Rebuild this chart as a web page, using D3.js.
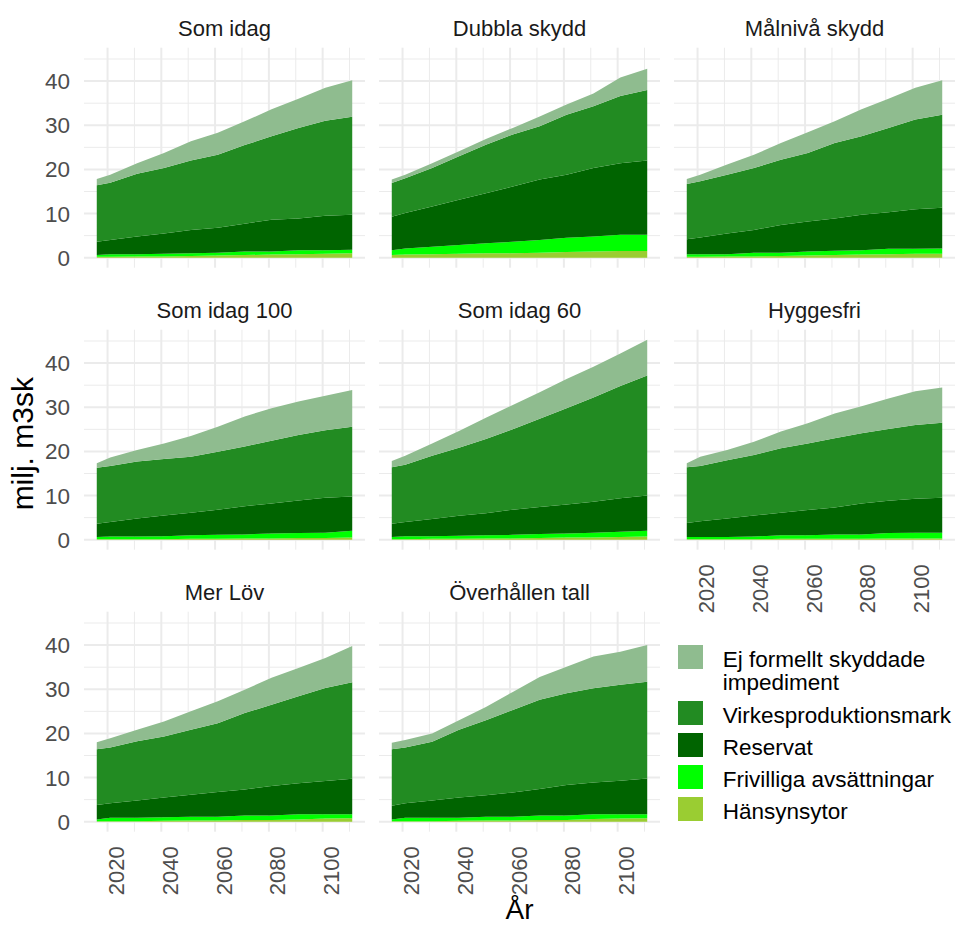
<!DOCTYPE html>
<html>
<head>
<meta charset="utf-8">
<script src="https://cdn.jsdelivr.net/npm/d3@7"></script>
<style>
  body { margin: 0; background: #fff; }
  text { font-family: "Liberation Sans", Arial, sans-serif; }
</style>
</head>
<body>
<div id="chart"></div>
<script>
// Years (5-year period starts, every 10 years after 2021)
const years = [2016, 2021, 2031, 2041, 2051, 2061, 2071, 2081, 2091, 2101, 2111];

// Scenarios (facet order)
const scenarios = ["Som idag", "Dubbla skydd", "Målnivå skydd", "Som idag 100",
    "Som idag 60", "Hyggesfri", "Mer Löv", "Överhållen tall"];

// Categories, stacking order bottom -> top
const categories = ["Hänsynsytor", "Frivilliga avsättningar", "Reservat",
    "Virkesproduktionsmark", "Ej formellt skyddade impediment"];

// Values in milj. m3sk, one row per scenario
const hansynsytor = [
    [0.2, 0.2, 0.3, 0.3, 0.4, 0.5, 0.6, 0.7, 0.8, 0.9, 1.0],
    [0.6, 0.7, 0.8, 0.9, 1.0, 1.0, 1.1, 1.3, 1.4, 1.5, 1.5],
    [0.2, 0.2, 0.3, 0.3, 0.4, 0.5, 0.6, 0.7, 0.8, 0.9, 0.9],
    [0.1, 0.1, 0.1, 0.1, 0.2, 0.2, 0.3, 0.3, 0.4, 0.4, 0.5],
    [0.1, 0.1, 0.2, 0.2, 0.3, 0.3, 0.4, 0.5, 0.5, 0.6, 0.7],
    [0.1, 0.1, 0.1, 0.1, 0.2, 0.2, 0.2, 0.2, 0.3, 0.3, 0.3],
    [0.1, 0.1, 0.1, 0.2, 0.3, 0.3, 0.4, 0.4, 0.5, 0.7, 0.8],
    [0.1, 0.1, 0.1, 0.2, 0.3, 0.3, 0.4, 0.4, 0.6, 0.7, 0.8]
];
const frivilliga = [
    [0.4, 0.6, 0.5, 0.6, 0.6, 0.6, 0.8, 0.7, 0.9, 0.8, 0.8],
    [1.1, 1.4, 1.7, 2.0, 2.3, 2.6, 2.9, 3.2, 3.4, 3.7, 3.7],
    [0.6, 0.6, 0.5, 0.8, 0.7, 0.9, 1.0, 1.0, 1.2, 1.1, 1.2],
    [0.5, 0.6, 0.6, 0.7, 0.8, 0.9, 0.9, 1.1, 1.1, 1.2, 1.5],
    [0.5, 0.7, 0.6, 0.7, 0.7, 0.8, 0.9, 0.9, 1.1, 1.2, 1.3],
    [0.5, 0.5, 0.5, 0.6, 0.8, 0.8, 1.0, 1.0, 1.2, 1.3, 1.3],
    [0.4, 0.8, 0.8, 0.8, 0.8, 0.8, 1.0, 1.0, 1.2, 1.0, 0.9],
    [0.4, 0.8, 0.8, 0.7, 0.8, 0.8, 1.0, 1.0, 1.1, 1.0, 0.9]
];
const reservat = [
    [3.0, 3.2, 4.0, 4.6, 5.3, 5.7, 6.3, 7.2, 7.2, 7.8, 7.9],
    [7.6, 8.0, 9.1, 10.2, 11.3, 12.5, 13.7, 14.3, 15.5, 16.2, 16.8],
    [3.4, 3.8, 4.7, 5.2, 6.3, 6.8, 7.3, 8.0, 8.3, 9.0, 9.2],
    [3.0, 3.3, 4.1, 4.7, 5.1, 5.7, 6.4, 6.8, 7.4, 7.9, 7.8],
    [3.0, 3.2, 3.9, 4.5, 5.0, 5.7, 6.1, 6.6, 7.0, 7.6, 8.0],
    [3.2, 3.6, 4.2, 4.8, 5.1, 5.7, 6.1, 7.0, 7.3, 7.7, 7.9],
    [3.3, 3.3, 3.9, 4.5, 5.0, 5.6, 5.9, 6.7, 7.0, 7.5, 8.0],
    [3.1, 3.3, 3.9, 4.6, 4.9, 5.5, 6.0, 6.9, 7.2, 7.6, 8.1]
];
const virkesproduktion = [
    [12.8, 13.0, 14.2, 14.8, 15.7, 16.5, 17.8, 18.9, 20.5, 21.5, 22.2],
    [7.6, 7.9, 8.7, 9.9, 11.0, 11.8, 12.1, 13.6, 14.0, 15.2, 16.0],
    [12.5, 12.7, 13.3, 14.0, 14.8, 15.5, 17.1, 17.8, 19.1, 20.3, 21.1],
    [12.7, 12.7, 12.9, 12.8, 12.7, 13.1, 13.5, 14.2, 14.8, 15.3, 15.8],
    [12.8, 13.0, 14.3, 15.4, 16.8, 18.2, 20.0, 21.8, 23.6, 25.4, 27.2],
    [12.6, 12.5, 13.2, 13.7, 14.6, 15.1, 15.7, 15.9, 16.3, 16.7, 17.0],
    [12.6, 12.6, 13.4, 13.8, 14.7, 15.6, 17.3, 18.4, 19.7, 21.1, 21.9],
    [12.8, 12.6, 13.3, 15.3, 17.0, 18.7, 20.2, 20.8, 21.3, 21.7, 21.9]
];
const impediment = [
    [1.4, 1.8, 2.4, 3.4, 4.4, 5.0, 5.4, 6.1, 6.6, 7.5, 8.3],
    [0.8, 0.8, 1.1, 1.1, 1.3, 1.5, 2.2, 2.3, 2.9, 4.2, 4.8],
    [1.1, 1.5, 2.3, 3.0, 3.8, 4.7, 4.9, 6.1, 6.6, 7.2, 7.8],
    [1.0, 1.9, 2.6, 3.5, 4.7, 5.7, 6.8, 7.4, 7.6, 7.8, 8.3],
    [1.4, 2.0, 2.8, 3.8, 4.8, 5.5, 6.0, 6.6, 7.0, 7.4, 8.1],
    [0.9, 2.1, 2.3, 3.0, 3.8, 4.6, 5.6, 6.1, 6.9, 7.6, 8.0],
    [1.6, 2.1, 2.6, 3.4, 4.2, 5.0, 5.3, 6.1, 6.4, 6.8, 8.2],
    [1.5, 1.7, 1.9, 2.2, 3.0, 4.1, 5.2, 6.0, 7.2, 7.5, 8.3]
];

// Axis ticks
const xMajor = [2020, 2040, 2060, 2080, 2100];
const xMinor = [2030, 2050, 2070, 2090, 2110];
const yMajor = [0, 10, 20, 30, 40];
const yMinor = [5, 15, 25, 35, 45];

const colors = {
    "Hänsynsytor": "#9ACD32",
    "Frivilliga avsättningar": "#00FF00",
    "Reservat": "#006400",
    "Virkesproduktionsmark": "#228B22",
    "Ej formellt skyddade impediment": "#8FBC8F"
};

// Build one table per scenario
const series = [hansynsytor, frivilliga, reservat, virkesproduktion, impediment];
const tables = scenarios.map((s, si) => years.map((yr, yi) => {
    const row = { year: yr };
    categories.forEach((c, ci) => { row[c] = series[ci][si][yi]; });
    return row;
}));

// Layout
const W = 956, H = 927;
const panelW = 281, panelH = 220;
const colX = [84, 379, 674];
const rowY = [47.7, 329.7, 611.7];

const svg = d3.select("#chart")
    .append("svg")
    .attr("width", W)
    .attr("height", H);

// Scales (ggplot-style 5% expansion)
const xExt = d3.extent(years);
const xPad = (xExt[1] - xExt[0]) * 0.05;
const x = d3.scaleLinear()
    .domain([xExt[0] - xPad, xExt[1] + xPad])
    .range([0, panelW]);

const yMax = d3.max(tables, t => d3.max(t, r => d3.sum(categories, c => r[c])));
const y = d3.scaleLinear()
    .domain([-yMax * 0.05, yMax * 1.05])
    .range([panelH, 0]);

const stack = d3.stack().keys(categories);
const area = d3.area()
    .x(d => x(d.data.year))
    .y0(d => y(d[0]))
    .y1(d => y(d[1]));

const gridColor = "#EBEBEB";

scenarios.forEach((name, i) => {
    const col = i % 3, row = Math.floor(i / 3);
    const g = svg.append("g")
        .attr("transform", `translate(${colX[col]},${rowY[row]})`);

    // Grid lines
    g.selectAll(".ymin").data(yMinor).join("line")
        .attr("x1", 0).attr("x2", panelW)
        .attr("y1", d => y(d)).attr("y2", d => y(d))
        .attr("stroke", gridColor).attr("stroke-width", 1);
    g.selectAll(".xmin").data(xMinor).join("line")
        .attr("y1", 0).attr("y2", panelH)
        .attr("x1", d => x(d)).attr("x2", d => x(d))
        .attr("stroke", gridColor).attr("stroke-width", 1);
    g.selectAll(".ymaj").data(yMajor).join("line")
        .attr("x1", 0).attr("x2", panelW)
        .attr("y1", d => y(d)).attr("y2", d => y(d))
        .attr("stroke", gridColor).attr("stroke-width", 2);
    g.selectAll(".xmaj").data(xMajor).join("line")
        .attr("y1", 0).attr("y2", panelH)
        .attr("x1", d => x(d)).attr("x2", d => x(d))
        .attr("stroke", gridColor).attr("stroke-width", 2);

    // Stacked areas
    g.selectAll("path.layer")
        .data(stack(tables[i]))
        .join("path")
        .attr("class", "layer")
        .attr("fill", d => colors[d.key])
        .attr("d", area);

    // Strip title
    g.append("text")
        .attr("x", panelW / 2)
        .attr("y", -11.7)
        .attr("text-anchor", "middle")
        .attr("fill", "#1A1A1A")
        .style("font-size", "22px")
        .text(name);

    // Y tick labels on first column
    if (col === 0) {
        g.selectAll(".ytick").data(yMajor).join("text")
            .attr("x", -14)
            .attr("y", d => y(d))
            .attr("dy", "0.36em")
            .attr("text-anchor", "end")
            .attr("fill", "#4D4D4D")
            .style("font-size", "22.5px")
            .text(d => d);
    }

    // X tick labels on bottom panel of each column
    const isBottom = (i + 3) >= scenarios.length;
    if (isBottom) {
        g.selectAll(".xtick").data(xMajor).join("text")
            .attr("transform", d => `translate(${x(d)},${panelH + 14.5}) rotate(-90)`)
            .attr("dy", "0.75em")
            .attr("text-anchor", "end")
            .attr("fill", "#4D4D4D")
            .style("font-size", "22px")
            .text(d => d);
    }
});

// Axis titles
svg.append("text")
    .attr("x", (colX[0] + colX[2] + panelW) / 2)
    .attr("y", 919)
    .attr("text-anchor", "middle")
    .attr("fill", "#000")
    .style("font-size", "28px")
    .text("År");

svg.append("text")
    .attr("transform", `translate(33,${(rowY[0] + rowY[2] + panelH) / 2 + 4}) rotate(-90)`)
    .attr("text-anchor", "middle")
    .attr("fill", "#000")
    .style("font-size", "30px")
    .text("milj. m3sk");

// Legend (top of stack first)
const legendItems = [...categories].reverse();
const legendLines = {
    "Ej formellt skyddade impediment": ["Ej formellt skyddade", "impediment"]
};
const legend = svg.append("g")
    .attr("transform", "translate(678,645)");
let ly = 0;
legendItems.forEach(c => {
    const lines = legendLines[c] || [c];
    legend.append("rect")
        .attr("x", 0).attr("y", ly)
        .attr("width", 25).attr("height", 24)
        .attr("fill", colors[c]);
    lines.forEach((t, k) => {
        legend.append("text")
            .attr("x", 44.7)
            .attr("y", ly + 21.7 + k * 23.3)
            .attr("fill", "#000")
            .style("font-size", "22.5px")
            .text(t);
    });
    ly += 32 + (lines.length - 1) * 24;
});
</script>
</body>
</html>
